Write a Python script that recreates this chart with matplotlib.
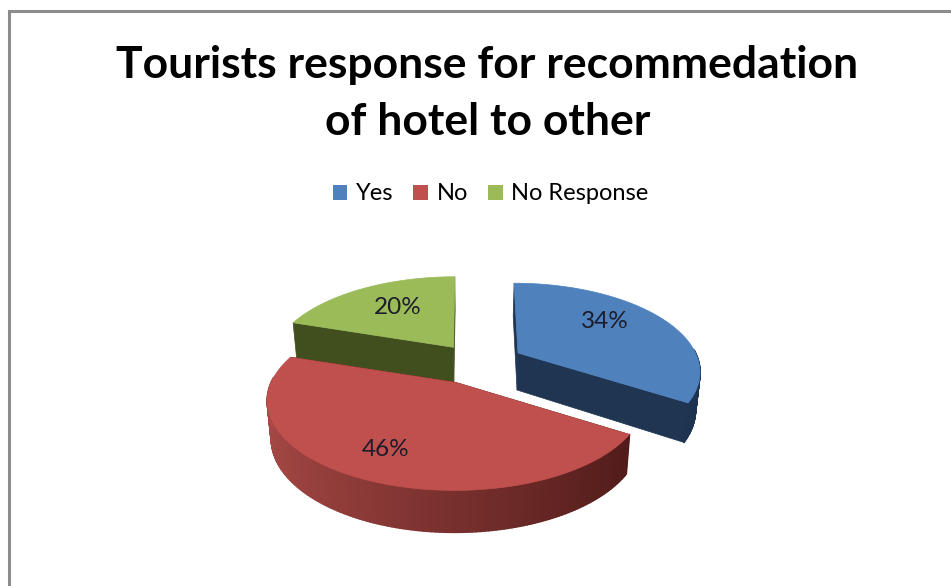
import numpy as np
import matplotlib
matplotlib.use("Agg")
import matplotlib.pyplot as plt
from matplotlib.collections import PolyCollection
from matplotlib.patches import Polygon, Patch
from matplotlib.colors import to_rgb

# Survey results
categories = ["Yes", "No", "No Response"]
values = [34, 46, 20]
title_lines = ["Tourists response for recommedation", "of hotel to other"]

# Slice colours: top face, rim at left, rim at right, cut faces
top_colors = ["#4F81BD", "#C0504D", "#9BBB59"]
rim_left = ["#223C5E", "#A64845", "#46551F"]
rim_right = ["#1E3350", "#4A1816", "#46551F"]
cut_colors = ["#1F3552", "#4A1816", "#414E1E"]

# Projection of the tilted pie onto the canvas
RADIUS_X, RADIUS_Y = 183.0, 86.0
PERSPECTIVE = 0.195
VANISH_X = 470.0
SHEAR = 0.5
THICKNESS = 37.0
BASE_SHRINK = 0.98

# Exploded slice apexes, apparent slice sizes and label anchors, in canvas pixels
apexes = {"Yes": (518, 353), "No": (456, 382.5), "No Response": (453.5, 347.3)}
slice_scale = {"Yes": 0.97, "No": 1.01, "No Response": 0.98}
label_xy = {"Yes": (605, 322), "No": (386, 449), "No Response": (398, 307)}
draw_order = ["No Response", "Yes", "No"]


def project(apex, scale, theta):
    """Canvas coordinates of a top-rim point and its counterpart on the base."""
    x, y = np.sin(theta), np.cos(theta)
    denom = 1 + PERSPECTIVE * y
    sx = apex[0] + RADIUS_X * scale * x / denom + (apex[0] - VANISH_X) * SHEAR * (1 / denom - 1)
    sy = apex[1] - RADIUS_Y * scale * y / denom
    bx = VANISH_X + (sx - VANISH_X) * BASE_SHRINK
    by = sy + THICKNESS / (1 + 0.6 * PERSPECTIVE * y)
    return sx, sy, bx, by


fig = plt.figure(figsize=(9.51, 5.86), dpi=100, facecolor="white")
ax = fig.add_axes([0, 0, 1, 1])
ax.set_xlim(0, 951)
ax.set_ylim(586, 0)
ax.axis("off")

# Chart-area frame: only the top and left edges fall on the canvas
ax.plot([951, 9, 9], [11, 11, 586], color="#8C8C8C", lw=2.2, solid_joinstyle="miter")

# Slice angles run clockwise from twelve o'clock
fractions = np.array(values) / sum(values)
edges = np.concatenate([[0], np.cumsum(fractions)]) * 2 * np.pi
spans = {c: (edges[i], edges[i + 1], i) for i, c in enumerate(categories)}

for name in draw_order:
    start, stop, idx = spans[name]
    apex = apexes[name]
    scale = slice_scale[name]
    theta = np.linspace(start, stop, 160)
    sx, sy, bx, by = project(apex, scale, theta)
    ay_b = apex[1] + THICKNESS
    ax_b = VANISH_X + (apex[0] - VANISH_X) * BASE_SHRINK

    # Cut faces along both straight edges
    for end in (-1, 0):
        ax.add_patch(Polygon(
            [(apex[0], apex[1]), (sx[end], sy[end]), (bx[end], by[end]), (ax_b, ay_b)],
            closed=True, facecolor=cut_colors[idx], edgecolor=cut_colors[idx], lw=0.5))

    # Outer rim shaded from left to right; the back of the rim stays hidden
    quads, shades = [], []
    left, right = np.array(to_rgb(rim_left[idx])), np.array(to_rgb(rim_right[idx]))
    for i in range(len(theta) - 1):
        if np.cos(theta[i]) > 0.05:
            continue
        quads.append([(sx[i], sy[i]), (sx[i + 1], sy[i + 1]),
                      (bx[i + 1], by[i + 1]), (bx[i], by[i])])
        t = np.clip((np.sin(theta[i]) + 1) / 2, 0, 1)
        shades.append(tuple(left + (right - left) * t))
    if quads:
        ax.add_collection(PolyCollection(quads, facecolors=shades, edgecolors=shades, linewidths=1.2))

    # Top face
    ax.add_patch(Polygon(
        np.vstack([[apex], np.column_stack([sx, sy])]), closed=True,
        facecolor=top_colors[idx], edgecolor=top_colors[idx], lw=0.5))

    ax.text(*label_xy[name], f"{values[idx]}%", ha="center", va="center",
            fontsize=17.5, family="Lato", color="#1C1C2A")

# Title, one line at a time
for line, base in zip(title_lines, (78, 135)):
    ax.text(487.5, base, line, ha="center", va="baseline",
            fontsize=32, family="Lato", fontweight="bold", color="black")

# Legend row above the pie
handles = [Patch(facecolor=c, edgecolor="none") for c in top_colors]
ax.legend(handles, categories, ncol=3, loc="center", bbox_to_anchor=(490.5 / 951, 1 - 194 / 586),
          frameon=False, handlelength=0.62, handleheight=0.62, handletextpad=0.36,
          columnspacing=0.85, prop={"family": "Lato", "size": 17})

fig.savefig("out.png", dpi=100)
